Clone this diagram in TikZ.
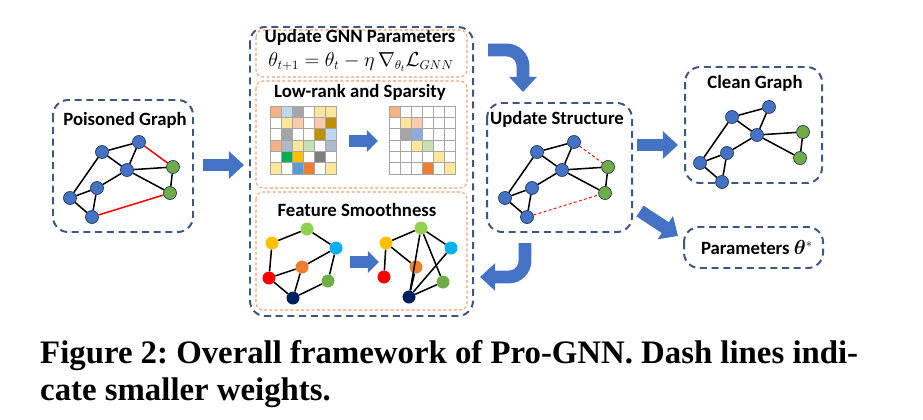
\documentclass[tikz,border=0pt]{standalone}
\usepackage{fontspec}
\setmainfont{Liberation Serif}
\newfontfamily\carlito{Carlito}
\usepackage{bm}
\usetikzlibrary{arrows.meta}

\definecolor{boxblue}{RGB}{61,86,130}
\definecolor{boxorange}{RGB}{236,160,110}
\definecolor{arrowblue}{RGB}{68,114,196}
\definecolor{nodeblue}{RGB}{68,114,196}
\definecolor{nodegreen}{RGB}{112,173,71}
\definecolor{nodeline}{RGB}{40,60,100}
% matrix colours
\definecolor{pe}{HTML}{F4B183}
\definecolor{lb}{HTML}{BDD7EE}
\definecolor{gy}{HTML}{A5A5A5}
\definecolor{wh}{HTML}{FFFFFF}
\definecolor{ly}{HTML}{FFE699}
\definecolor{sa}{HTML}{F8CBAD}
\definecolor{dg}{HTML}{BF9000}
\definecolor{gb}{HTML}{ADB9CA}
\definecolor{lg}{HTML}{C5E0B4}
\definecolor{gr}{HTML}{00B050}
\definecolor{go}{HTML}{FFC000}
\definecolor{dk}{HTML}{7F7F7F}
\definecolor{bl}{HTML}{5B9BD5}
\definecolor{or}{HTML}{ED7D31}
\definecolor{mb}{HTML}{8FAADC}
% feature colours
\definecolor{fyellow}{HTML}{FFC000}
\definecolor{flgreen}{HTML}{92D050}
\definecolor{fcyan}{HTML}{00B0F0}
\definecolor{forange}{HTML}{ED7D31}
\definecolor{fred}{HTML}{FF0000}
\definecolor{fgreen}{HTML}{70AD47}
\definecolor{fnavy}{HTML}{002060}

\tikzset{
    panel/.style={draw=boxblue, line width=1.7pt, dash pattern=on 6pt off 4pt, rounded corners=13pt},
    subpanel/.style={draw=boxorange, line width=0.9pt, dash pattern=on 2.5pt off 2pt, rounded corners=6pt},
    title/.style={font=\carlito\bfseries\fontsize{16}{19}\selectfont},
    vtx/.style={circle, draw=nodeline, line width=0.6pt, fill=nodeblue, minimum size=0.39cm, inner sep=0pt},
    fvtx/.style={circle, minimum size=0.39cm, inner sep=0pt},
    edge/.style={line width=1.3pt},
    cell/.style={draw=gray!70, line width=0.4pt},
    bigarrow/.style={arrowblue, line width=11pt, -{Triangle[width=23pt, length=13pt]}},
    smallarrow/.style={arrowblue, line width=9.5pt, -{Triangle[width=18pt, length=9.5pt]}}
}

\begin{document}
\frenchspacing
\begin{tikzpicture}[x=0.03cm, y=-0.03cm]
    \useasboundingbox (0, 0) rectangle (923, 420);

    % poisoned graph
    \draw[panel] (53, 100) rectangle (193, 232);
    \node[title] (ptitle) at (125, 120) {Poisoned Graph};
    \begin{scope}
        \foreach \n/\px/\py in {a/102/152, b/139/142, c/127/170, d/97/188, e/70/198, f/92/217}
            \node[vtx] (p\n) at (\px, \py) {};
        \node[vtx, fill=nodegreen] (pg) at (173, 167) {};
        \node[vtx, fill=nodegreen] (ph) at (170, 193) {};
        \foreach \s/\t in {a/b, a/c, b/c, a/e, c/d, d/e, d/f, e/f, c/g, c/h, g/h}
            \draw[edge] (p\s) -- (p\t);
        \draw[edge, red] (pb) -- (pg) (pf) -- (ph);
    \end{scope}

    \coordinate (a1s) at (203, 165);
    \coordinate (a1e) at (244, 165);
    \draw[bigarrow] (a1s) -- (a1e);

    % middle panel
    \draw[panel] (250, 27) rectangle (473, 316);
    \draw[subpanel] (256, 30) rectangle (467, 77);
    \node[title, inner sep=0.5pt] (gnntitle) at (360, 37.5) {Update GNN Parameters};
    \node[font=\fontsize{16}{19}\selectfont, inner sep=0.5pt] (gnnformula) at (361, 61.5)
        {$\theta_{t+1} = \theta_t - \eta\,\nabla_{\theta_t}\mathcal{L}_{GNN}$};

    \draw[subpanel] (256, 81) rectangle (467, 188);
    \node[title] (lrtitle) at (360, 92) {Low-rank and Sparsity};
    \foreach \row [count=\r] in {{pe,lb,gy,wh,ly,ly},{wh,ly,sa,wh,sa,dg},{wh,gy,wh,wh,dg,lb},
                                 {pe,gb,ly,lg,wh,gb},{wh,gr,go,wh,dk,wh},{ly,wh,bl,or,wh,ly}}
        \foreach \c [count=\k] in \row
            \draw[cell, fill=\c] ({270+(\k-1)*11}, {106+(\r-1)*11.3}) rectangle ++(11, 11.3);
    \foreach \row [count=\r] in {{pe,wh,wh,wh,wh,wh},{wh,ly,sa,wh,wh,wh},{wh,gy,mb,wh,wh,wh},
                                 {wh,wh,ly,lg,wh,wh},{wh,wh,wh,wh,ly,wh},{wh,wh,wh,or,wh,ly}}
        \foreach \c [count=\k] in \row
            \draw[cell, fill=\c] ({389+(\k-1)*11}, {106+(\r-1)*11.3}) rectangle ++(11, 11.3);
    \coordinate (a2s) at (349, 141);
    \coordinate (a2e) at (378, 141);
    \draw[smallarrow] (a2s) -- (a2e);

    \draw[subpanel] (256, 192) rectangle (467, 310);
    \node[title] (fstitle) at (357, 210) {Feature Smoothness};
    \begin{scope}
        \node[fvtx, fill=fyellow] (ly) at (272, 243) {};
        \node[fvtx, fill=flgreen] (llg) at (307, 229) {};
        \node[fvtx, fill=fcyan] (lc) at (336, 248) {};
        \node[fvtx, fill=forange] (lo) at (302, 267) {};
        \node[fvtx, fill=fred] (lr) at (269, 278) {};
        \node[fvtx, fill=fgreen] (lgr) at (328, 281) {};
        \node[fvtx, fill=fnavy] (ln) at (293, 298) {};
        \foreach \s/\t in {y/lg, lg/c, y/r, r/o, o/c, r/n, o/n, n/gr, gr/c}
            \draw[edge] (l\s) -- (l\t);
    \end{scope}
    \coordinate (a3s) at (350, 262);
    \coordinate (a3e) at (379, 262);
    \draw[smallarrow] (a3s) -- (a3e);
    \begin{scope}
        \node[fvtx, fill=fyellow] (ry) at (386, 243) {};
        \node[fvtx, fill=flgreen] (rlg) at (421, 228) {};
        \node[fvtx, fill=fcyan] (rc) at (451, 248) {};
        \node[fvtx, fill=forange] (ro) at (416, 267) {};
        \node[fvtx, fill=fred] (rr) at (384, 277) {};
        \node[fvtx, fill=fgreen] (rgr) at (443, 282) {};
        \node[fvtx, fill=fnavy] (rn) at (409, 297) {};
        \foreach \s/\t in {y/lg, lg/c, y/r, y/o, o/n, lg/gr, n/c, n/gr, n/lg}
            \draw[edge] (r\s) -- (r\t);
    \end{scope}

    % curved arrows
    \coordinate (a4s) at (488, 50);
    \coordinate (a4e) at (523, 92);
    \draw[bigarrow, rounded corners=14pt] (a4s) -| (a4e);
    \coordinate (a5s) at (525, 243);
    \coordinate (a5e) at (480, 277);
    \draw[bigarrow, rounded corners=14pt] (a5s) |- (a5e);

    % update structure
    \draw[panel] (487, 103) rectangle (632, 232);
    \node[title] (utitle) at (557, 119) {Update Structure};
    \begin{scope}[shift={(435, 0)}]
        \foreach \n/\px/\py in {a/102/152, b/139/142, c/127/170, d/97/188, e/70/198, f/92/217}
            \node[vtx] (u\n) at (\px, \py) {};
        \node[vtx, fill=nodegreen] (ug) at (173, 167) {};
        \node[vtx, fill=nodegreen] (uh) at (170, 193) {};
        \foreach \s/\t in {a/b, a/c, b/c, a/e, c/d, d/e, d/f, e/f, c/g, c/h, g/h}
            \draw[edge] (u\s) -- (u\t);
        \draw[red, line width=0.8pt, dash pattern=on 2.5pt off 2pt] (ub) -- (ug) (uf) -- (uh);
    \end{scope}

    \coordinate (a6s) at (637, 145);
    \coordinate (a6e) at (678, 145);
    \draw[bigarrow] (a6s) -- (a6e);
    \coordinate (a7s) at (640, 211);
    \coordinate (a7e) at (678, 236);
    \draw[bigarrow] (a7s) -- (a7e);

    % clean graph
    \draw[panel] (685, 67) rectangle (822, 183);
    \node[title] (ctitle) at (755, 83) {Clean Graph};
    \begin{scope}[shift={(630, -35)}]
        \foreach \n/\px/\py in {a/102/152, b/139/142, c/127/170, d/97/188, e/70/198, f/92/217}
            \node[vtx] (c\n) at (\px, \py) {};
        \node[vtx, fill=nodegreen] (cg) at (173, 167) {};
        \node[vtx, fill=nodegreen] (ch) at (170, 193) {};
        \foreach \s/\t in {a/b, a/c, b/c, a/e, c/d, d/e, d/f, e/f, c/g, c/h, g/h}
            \draw[edge] (c\s) -- (c\t);
    \end{scope}

    % parameters
    \draw[panel] (684, 227) rectangle (823, 268);
    \node[title] (ptheta) at (757, 248) {Parameters $\bm{\theta}^{*}$};

    % caption
    \node[font=\bfseries\fontsize{28}{32}\selectfont, align=left, anchor=north west, inner sep=0pt]
        (caption) at (40, 340) {Figure 2: Overall framework of Pro-GNN. Dash lines indi-\\cate smaller weights.};
\end{tikzpicture}
\end{document}
